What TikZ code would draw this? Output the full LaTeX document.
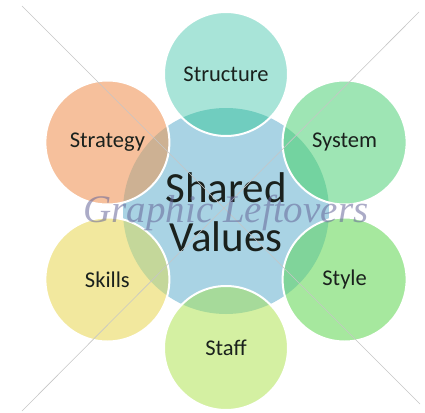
\documentclass[tikz,border=0pt]{standalone}
\usepackage{fontspec}
\setmainfont{Carlito}
\newfontfamily\wmfont{Liberation Serif}
\definecolor{cblue}{HTML}{A9D3E4}
\definecolor{cstruct}{HTML}{A8E4D8}
\definecolor{ostruct}{HTML}{70CDBF}
\definecolor{csys}{HTML}{9EE5B4}
\definecolor{osys}{HTML}{73D3A0}
\definecolor{cstyle}{HTML}{A6E89E}
\definecolor{ostyle}{HTML}{80D49A}
\definecolor{cstaff}{HTML}{D4F0A2}
\definecolor{ostaff}{HTML}{A6DA9A}
\definecolor{cskill}{HTML}{F2E89E}
\definecolor{oskill}{HTML}{C4D79A}
\definecolor{cstrat}{HTML}{F6C09C}
\definecolor{ostrat}{HTML}{CDB193}
\definecolor{ink}{HTML}{1A211D}
\tikzset{
  outer/.style={circle, minimum size=124pt, inner sep=0pt, fill=#1, text=ink,
    font=\fontsize{22.5}{25}\selectfont},
  wmline/.style={draw=gray!45, line width=0.6pt},
}
\begin{document}
\begin{tikzpicture}[x=1pt,y=-1pt]
\useasboundingbox (0,0) rectangle (425,412);
\fill[white] (0,0) rectangle (425,412);
% central circle
\node[circle, minimum size=206pt, inner sep=0pt, fill=cblue] (center) at (226,211) {};
% outer circles
\node[outer=cstruct] (structure) at (226,74) {Structure};
\node[outer=csys] (system) at (344.6,142.5) {System};
\node[outer=cstyle] (style) at (344.6,279.5) {Style};
\node[outer=cstaff] (staff) at (226,348) {Staff};
\node[outer=cskill] (skills) at (107.4,279.5) {Skills};
\node[outer=cstrat] (strategy) at (107.4,142.5) {Strategy};
% overlaps with the central circle
\begin{scope}
  \clip (226,211) circle (103);
  \fill[ostruct] (226,74) circle (62);
  \fill[osys] (344.6,142.5) circle (62);
  \fill[ostyle] (344.6,279.5) circle (62);
  \fill[ostaff] (226,348) circle (62);
  \fill[oskill] (107.4,279.5) circle (62);
  \fill[ostrat] (107.4,142.5) circle (62);
\end{scope}
% white borders
\foreach \p in {(226,74),(344.6,142.5),(344.6,279.5),(226,348),(107.4,279.5),(107.4,142.5)}
  \draw[white, line width=2pt] \p circle (62);
% center text
\node[text=ink, align=center, font=\fontsize{43}{49}\selectfont] (shared) at (226,212) {Shared\\Values};
% watermark
\coordinate (wa) at (22,6);
\coordinate (wb) at (420,404);
\coordinate (wc) at (22,411);
\coordinate (wd) at (419,12);
\draw[wmline] (wa) -- (wb);
\draw[wmline] (wc) -- (wd);
\node[text=gray!80!blue, opacity=0.55, font=\wmfont\itshape\fontsize{39}{40}\selectfont] (wm) at (226,213) {Graphic Leftovers};
\end{tikzpicture}
\end{document}
